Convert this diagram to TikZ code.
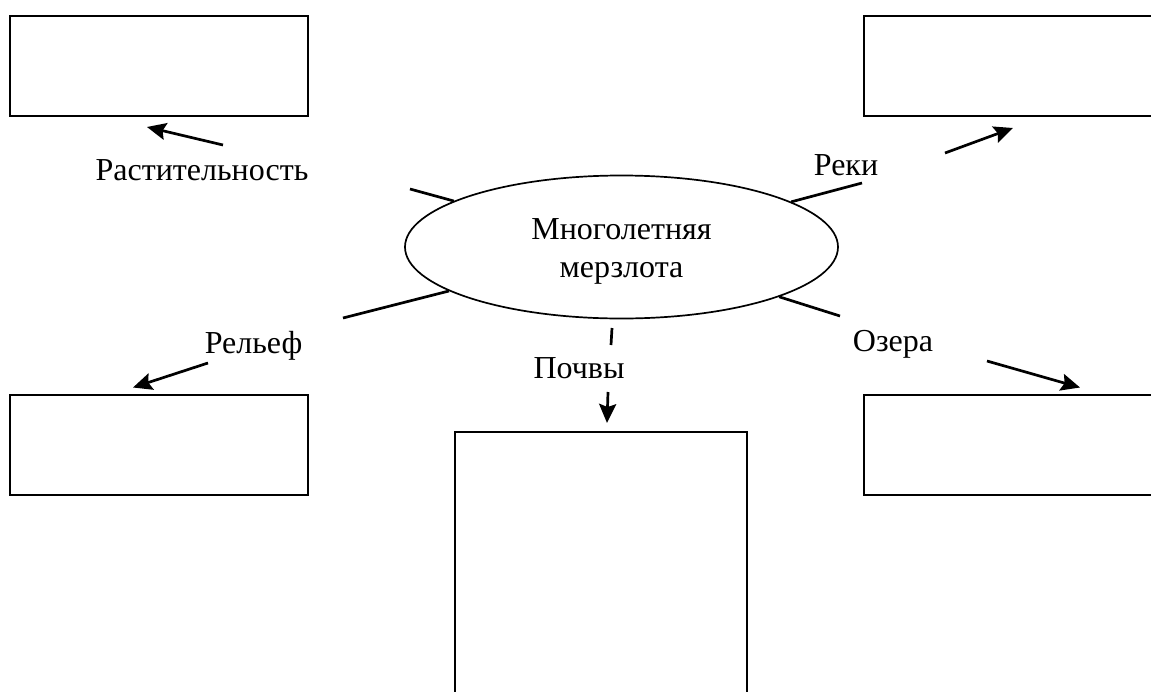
\documentclass[tikz,border=0pt]{standalone}
\usepackage{fontspec}
\setmainfont{Liberation Serif}
\usetikzlibrary{arrows.meta,positioning,shapes.geometric}

\begin{document}
\begin{tikzpicture}[x=1pt,y=-1pt,>={Stealth[length=19pt,width=17pt,inset=3pt]},node distance=854pt,on grid,font=\fontsize{32}{38}\selectfont]
\tikzstyle{box} = [draw,line width=2pt,outer sep=0pt,minimum width=298pt,minimum height=100pt]
\tikzstyle{oval} = [ellipse,draw,line width=1.7pt,minimum width=433pt,minimum height=143pt,align=center]
\tikzstyle{lbl} = [anchor=base,inner sep=0pt]
\useasboundingbox (0,0) rectangle (1151,691);
\clip (0,0) rectangle (1151,691);
    \node[oval] (mz) at (621.5,247) {\rule{0pt}{29pt}Многолетняя\\мерзлота};
    \node[box] (tl) at (159,66) {};
    \node[box] (tr) [right=of tl] {};
    \node[box] (bl) at (159,444.5) {};
    \node[box] (br) [right=of bl] {};
    \node[box,minimum width=292pt,minimum height=300pt] (bt) at (601,582) {};

    \node[lbl] (rast) at (202,180) {Растительность};
    \node[lbl] (reki) at (846,175) {Реки};
    \node[lbl] (rel) at (253.5,353) {Рельеф};
    \node[lbl] (oz) at (893,351) {Озера};
    \node[lbl] (poch) at (579,378) {Почвы};

    \coordinate (e1) at (410,189);
    \coordinate (e2) at (862,183);
    \coordinate (e3) at (343,318);
    \coordinate (e4) at (840,316);
    \coordinate (e5) at (612,328);
    \coordinate (f5) at (611,345);
    \coordinate (a1) at (223,145);
    \coordinate (a2) at (945,153);
    \coordinate (a3) at (208,363);
    \coordinate (a4) at (987,361);
    \coordinate (a5) at (608,392);

    \tikzset{link/.style={line width=2.7pt}}
    \draw[link] (mz) -- (e1);
    \draw[link] (mz) -- (e2);
    \draw[link] (mz) -- (e3);
    \draw[link] (mz) -- (e4);
    \draw[link] (e5) -- (f5);
    \draw[link,->] (a1) -- ([xshift=-12pt,yshift=-11pt]tl.south);
    \draw[link,->] (a2) -- ([yshift=-12pt]tr.south);
    \draw[link,->] (a3) -- ([xshift=-26pt,yshift=7pt]bl.north);
    \draw[link,->] (a4) -- ([xshift=67pt,yshift=7pt]br.north);
    \draw[link,->] (a5) -- ([xshift=6pt,yshift=9pt]bt.north);
\end{tikzpicture}
\end{document}
